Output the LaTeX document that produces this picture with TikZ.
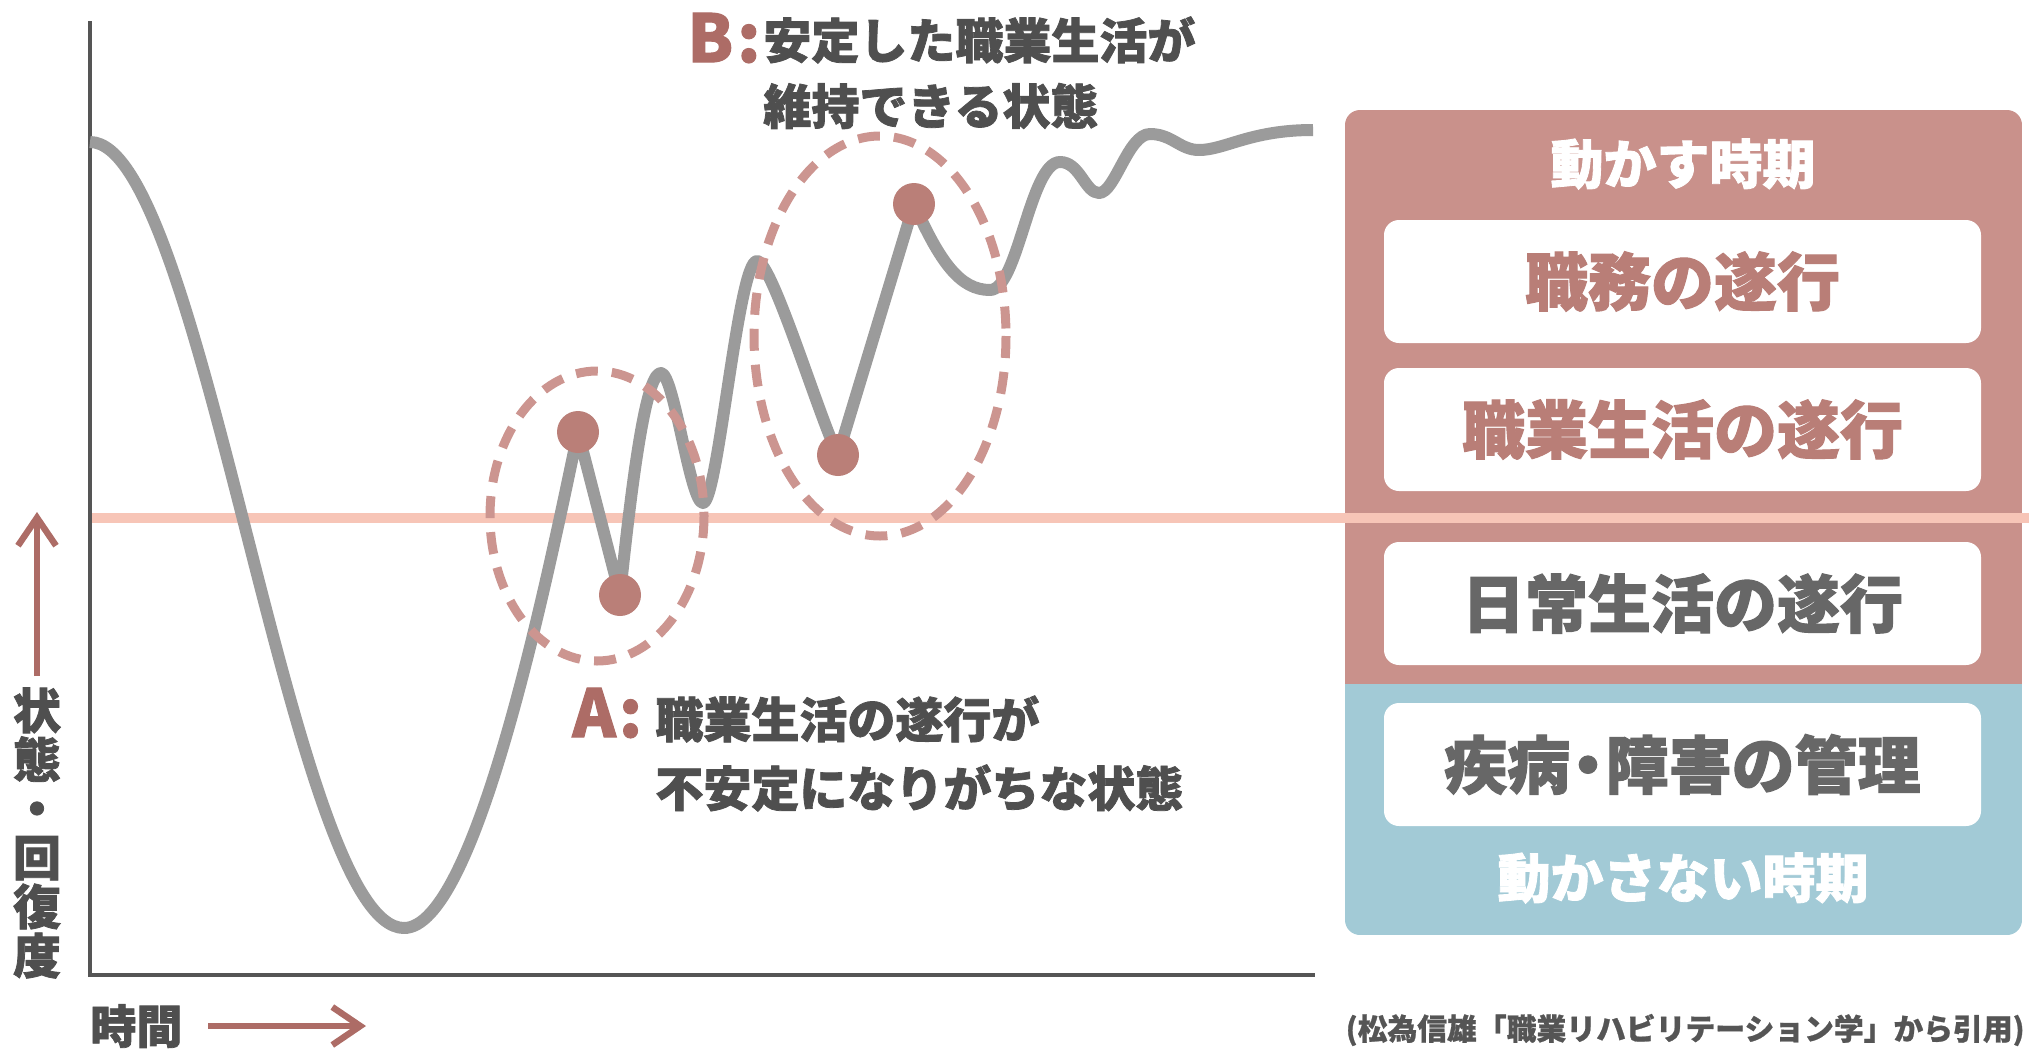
\documentclass[tikz,border=0pt]{standalone}
\usepackage{fontspec}
\setmainfont{Noto Sans CJK JP}[BoldFeatures={FakeBold=1.6}]
\newfontfamily\citefont{Noto Sans CJK JP}[BoldFeatures={FakeBold=0.8}]
\usetikzlibrary{arrows.meta}
\definecolor{axisgray}{HTML}{555555}
\definecolor{curvegray}{HTML}{9B9B9B}
\definecolor{darktext}{HTML}{4F4F4F}
\definecolor{boxtext}{HTML}{676767}
\definecolor{pinktext}{HTML}{B97E77}
\definecolor{boxpink}{HTML}{C9918B}
\definecolor{boxblue}{HTML}{A2CAD6}
\definecolor{dashpink}{HTML}{CC9590}
\definecolor{dotpink}{HTML}{BA7F78}
\definecolor{letterpink}{HTML}{AD6C66}
\definecolor{levelline}{HTML}{F7C5B7}
\tikzset{
  curve/.style={draw=curvegray, line width=6pt, line join=round},
  ring/.style={draw=dashpink, line width=4.5pt, dash pattern=on 11pt off 7pt},
  spot/.style={circle, fill=dotpink, minimum size=21pt, inner sep=0pt},
  wbox/.style={fill=white, rounded corners=7.5pt, minimum width=298.5pt, minimum height=61.5pt, inner sep=0pt,
    font=\bfseries\fontsize{31.5pt}{31.5pt}\selectfont},
  period/.style={text=white, inner sep=0pt, font=\bfseries\fontsize{26.5pt}{26.5pt}\selectfont},
  note/.style={text=darktext, inner sep=0pt, anchor=west, font=\bfseries\fontsize{24pt}{24pt}\selectfont},
  letter/.style={text=letterpink, inner sep=0pt, anchor=west, font=\bfseries\fontsize{33pt}{33pt}\selectfont},
  axarrow/.style={draw=letterpink, line width=3.2pt, -{Straight Barb[length=14pt,width=19pt]}},
}
\begin{document}
\begin{tikzpicture}[x=0.5pt,y=-0.5pt]
\useasboundingbox (0,0) rectangle (2029,1050);
% right panel
\begin{scope}
  \clip[rounded corners=7.5pt] (1345,110) rectangle (2022,935);
  \fill[boxpink] (1345,110) rectangle (2022,684);
  \fill[boxblue] (1345,684) rectangle (2022,935);
\end{scope}
% level line
\coordinate (lvA) at (92,518);
\coordinate (lvB) at (2029,518);
\draw[levelline, line width=4.75pt] (lvA) -- (lvB);
% axes
\coordinate (ytop) at (90,21);
\coordinate (orig) at (90,975);
\coordinate (xend) at (1315,975);
\draw[axisgray, line width=1.6pt] (ytop) -- (orig) -- (xend);
% curve
\draw[curve] (90,142) .. controls (203,142) and (291,928) .. (404,928)
 .. controls (475,928) and (545,590) .. (578,432)
 -- (620,595)
 .. controls (635,450) and (648,373) .. (661,373)
 .. controls (674,373) and (690,503) .. (703,503)
 .. controls (718,503) and (738,261) .. (757,261)
 .. controls (772,261) and (820,420) .. (838,455)
 -- (914,204)
 .. controls (940,262) and (960,290) .. (990,290)
 .. controls (1018,290) and (1030,162) .. (1060,162)
 .. controls (1080,162) and (1085,193) .. (1099,193)
 .. controls (1115,193) and (1128,134) .. (1150,134)
 .. controls (1172,134) and (1180,150) .. (1199,150)
 .. controls (1225,150) and (1250,130) .. (1313,130);
% ellipses
\draw[ring] (597,516) ellipse [x radius=107, y radius=145];
\draw[ring] (880,336) ellipse [x radius=126, y radius=200];
% dots
\node[spot] (a1) at (578,432) {};
\node[spot] (a2) at (620,595) {};
\node[spot] (b1) at (914,204) {};
\node[spot] (b2) at (838,455) {};
% annotations
\node[letter] (bl) at (687,38) {B\hspace{2pt}:};
\node[note] (bt1) at (763,40) {安定した職業生活が};
\node[note] (bt2) at (763,106) {維持できる状態};
\node[letter] (al) at (572,713) {A\hspace{1.5pt}:};
\node[note] (at1) at (655,719) {職業生活の遂行が};
\node[note] (at2) at (655,788) {不安定になりがちな状態};
% axis labels
\coordinate (yarS) at (37,676);
\coordinate (yarE) at (37,512);
\draw[axarrow] (yarS) -- (yarE);
\node[text=darktext, align=center, inner sep=0pt, font=\bfseries\fontsize{24pt}{24.5pt}\selectfont] (ylab) at (37,833) {状\\態\\・\\回\\復\\度};
\node[text=darktext, inner sep=0pt, anchor=west, font=\bfseries\fontsize{23pt}{23pt}\selectfont] (xlab) at (90,1026) {時間};
\coordinate (xarS) at (208,1026);
\coordinate (xarE) at (366,1026);
\draw[axarrow] (xarS) -- (xarE);
% panel content
\node[period] (p1) at (1683,164) {動かす時期};
\node[wbox, text=pinktext] (w1) at (1682.5,281.5) {職務の遂行};
\node[wbox, text=pinktext] (w2) at (1682.5,429.5) {職業生活の遂行};
\node[wbox, text=boxtext] (w3) at (1682.5,603.5) {日常生活の遂行};
\node[wbox, text=boxtext] (w4) at (1682.5,764.5) {疾病\kern-0.22em・\kern-0.22em障害の管理};
\node[period] (p2) at (1683,878) {動かさない時期};
\node[text=axisgray, inner sep=0pt, anchor=east, font=\citefont\bfseries\fontsize{14.9pt}{14.9pt}\selectfont] (cite) at (2025,1030) {(松為信雄「職業リハビリテーション学」から引用)};
\end{tikzpicture}
\end{document}
